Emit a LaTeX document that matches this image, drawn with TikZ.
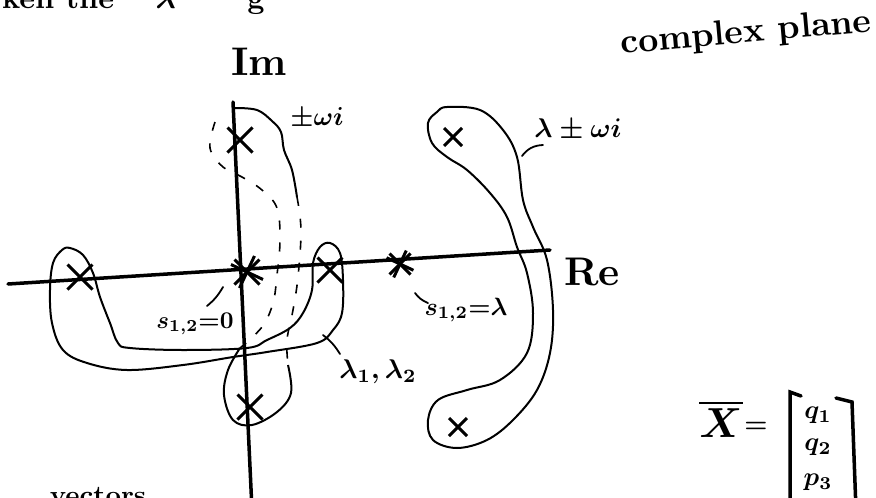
\documentclass[tikz,border=0pt]{standalone}
\usepackage{amsmath}
\usetikzlibrary{shapes.misc,positioning}

\begin{document}
\begin{tikzpicture}[x=1pt, y=-1pt,
  axis/.style={line width=3.5pt, line cap=round},
  blob/.style={line width=2pt, line join=round},
  tail/.style={line width=1.6pt, dash pattern=on 9pt off 13pt},
  pole/.style={cross out, draw, line width=3pt, minimum size=22pt, inner sep=0pt},
  smallpole/.style={pole, minimum size=15pt},
  lbl/.style={font=\normalsize\bfseries\boldmath, inner sep=0.5pt, transform shape},
  tag/.style={line width=1.8pt, line cap=round},
]
  \useasboundingbox (0,0) rectangle (876,498);
  \clip (0,0) rectangle (876,498);

  % axes
  \coordinate (imtop) at (233,102);
  \coordinate (imbot) at (252,510);
  \coordinate (releft) at (8,284);
  \coordinate (reright) at (550,250);
  \draw[axis] (imtop) -- (imbot);
  \draw[axis] (releft) -- (reright);

  % poles
  \node[pole] (pim) at (240,140) {};
  \node[pole] (pleft) at (80,277) {};
  \node[pole] (pright) at (330,270) {};
  \node[pole] (pbot) at (250,407) {};
  \node[smallpole] (pup) at (453,137) {};
  \node[smallpole] (plow) at (458,427) {};
  \node[pole] (porig) at (247,272) {};
  \node[pole, rotate=20] (porig2) at (247,272) {};
  \node[pole, minimum size=18pt] (preal) at (400,264) {};
  \node[pole, minimum size=18pt, rotate=20] (preal2) at (400,264) {};

  % blobs
  \draw[blob] plot[smooth cycle, tension=0.6] coordinates {
    (447,107) (480,110) (503,130) (517,157) (523,200) (533,227) (547,260)
    (553,310) (550,353) (537,390) (513,420) (487,440) (457,448) (433,440)
    (428,420) (438,400) (467,390) (500,380) (527,353) (533,313) (527,273)
    (517,247) (507,217) (490,193) (467,170) (447,157) (432,143) (428,123)
    (437,112)};
  \draw[blob] plot[smooth cycle, tension=0.6] coordinates {
    (70,248) (83,255) (93,273) (100,297) (110,323) (118,343) (130,348)
    (183,350) (247,348) (267,340) (290,328) (303,313) (312,290) (313,263)
    (320,247) (330,243) (340,253) (343,280) (342,313) (333,330) (317,343)
    (267,352) (233,357) (183,365) (127,370) (87,363) (63,350) (52,323)
    (50,290) (53,263) (62,250)};
  \draw[blob] plot[smooth, tension=0.6] coordinates {
    (235,108) (257,110) (272,121) (281,132) (284,150) (292,170) (297,197)};
  \draw[tail] plot[smooth, tension=0.6] coordinates {
    (215,122) (210,148) (223,167) (242,177) (262,190) (277,208) (280,240)
    (277,275) (273,303) (262,327) (240,348)};
  \draw[tail] plot[smooth, tension=0.6] coordinates {
    (297,197) (301,230) (298,277) (293,310) (287,340) (288,365)};
  \draw[blob] plot[smooth, tension=0.6] coordinates {
    (240,348) (228,370) (224,395) (233,420) (252,425) (277,412) (291,393)
    (288,365)};

  % labels
  \node[lbl, scale=4] (im) at (259,62) {Im};
  \node[lbl, scale=4] (re) at (592,272) {Re};
  \node[lbl, scale=3.5, rotate=5] (cplx) at (746,34) {complex plane};
  \node[lbl, anchor=base west, scale=3] (topline) at (0,8) {ken the \quad $\lambda$ \qquad g};
  \node[lbl, anchor=base west, scale=2.7] (botline) at (48,504) {vectors};

  \node[lbl, scale=2.6] (wlab) at (317,118) {$\pm\omega i$};
  \node[lbl, scale=2.7] (lwlab) at (578,130) {$\lambda\pm\omega i$};
  \node[lbl, scale=2.4] (s0) at (195,324) {$s_{1,2}{=}0$};
  \node[lbl, scale=2.5] (sl) at (466,310) {$s_{1,2}{=}\lambda$};
  \node[lbl, scale=2.7] (ll) at (378,372) {$\lambda_1,\lambda_2$};

  % leader lines
  \coordinate (s0a) at (207,306);
  \coordinate (s0b) at (223,287);
  \coordinate (sla) at (415,293);
  \coordinate (slb) at (428,303);
  \coordinate (lla) at (323,335);
  \coordinate (llb) at (340,354);
  \coordinate (lwa) at (522,156);
  \coordinate (lwb) at (543,145);
  \draw[tag] (s0a) to[bend right=10] (s0b);
  \draw[tag] (sla) to[bend right=15] (slb);
  \draw[tag] (lla) to[bend left=10] (llb);
  \draw[tag] (lwa) to[bend left=25] (lwb);

  % state vector
  \node[lbl, scale=4.2] (xbar) at (721,419) {$\overline{X}$};
  \node[lbl, scale=2.6] (eq) at (756,427) {$=$};
  \coordinate (lbtop) at (790,392);
  \coordinate (lbbot) at (790,510);
  \coordinate (lbtick) at (801,396);
  \coordinate (rbtop) at (836,398);
  \coordinate (rbcorner) at (852,402);
  \coordinate (rbbot) at (856,510);
  \draw[axis] (lbtick) -- (lbtop) -- (lbbot);
  \draw[axis] (rbtop) -- (rbcorner) -- (rbbot);
  \node[lbl, scale=2.6] (q1) at (818,415) {$q_1$};
  \node[lbl, scale=2.6] (q2) at (818,447) {$q_2$};
  \node[lbl, scale=2.6] (p3) at (818,482) {$p_3$};
\end{tikzpicture}
\end{document}
